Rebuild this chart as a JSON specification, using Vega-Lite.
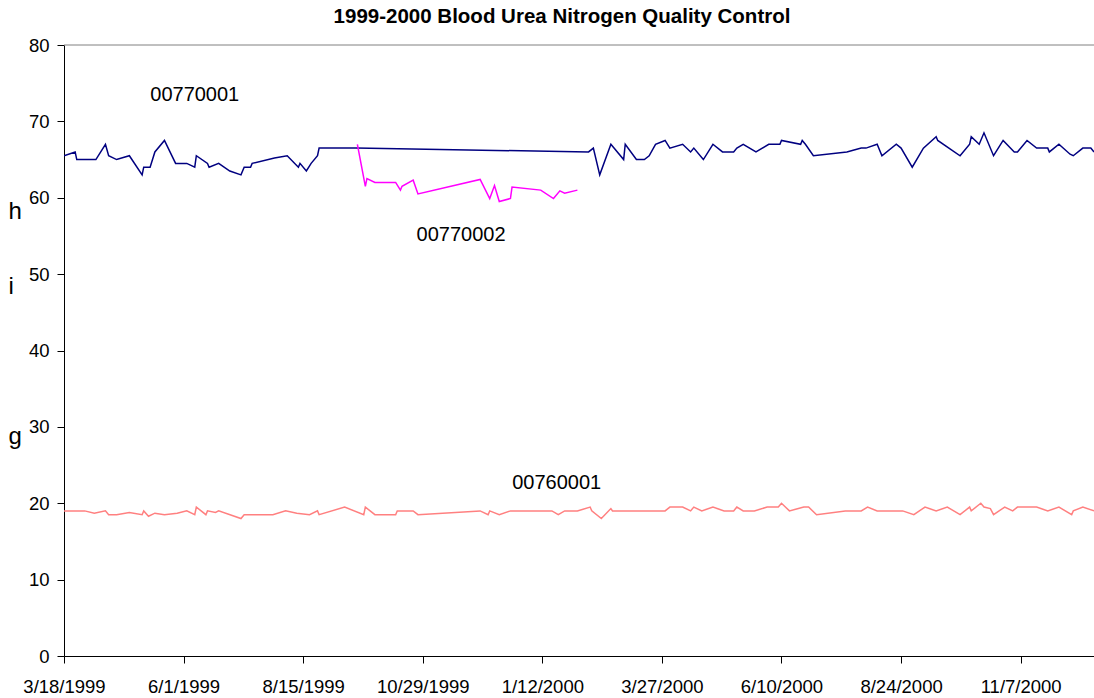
{
  "$schema": "https://vega.github.io/schema/vega-lite/v6.json",
  "width": 1030,
  "height": 611,
  "autosize": "none",
  "padding": {"left": 64, "top": 45, "right": 0, "bottom": 42},
  "background": "white",
  "config": {"view": {"stroke": null}, "font": "Liberation Sans"},
  "title": {
    "text": "1999-2000 Blood Urea Nitrogen Quality Control",
    "fontSize": 20.5,
    "fontWeight": "bold",
    "font": "Liberation Sans",
    "color": "black",
    "anchor": "middle",
    "frame": "group",
    "dx": -17,
    "baseline": "alphabetic",
    "offset": -7
  },
  "datasets": {
    "qc": [
      {"series": "00770001", "date": "1999/03/18", "value": 65.5},
      {"series": "00770001", "date": "1999/03/25", "value": 66},
      {"series": "00770001", "date": "1999/03/26", "value": 65},
      {"series": "00770001", "date": "1999/03/30", "value": 65},
      {"series": "00770001", "date": "1999/04/07", "value": 65},
      {"series": "00770001", "date": "1999/04/13", "value": 67},
      {"series": "00770001", "date": "1999/04/15", "value": 65.5},
      {"series": "00770001", "date": "1999/04/20", "value": 65},
      {"series": "00770001", "date": "1999/04/28", "value": 65.5},
      {"series": "00770001", "date": "1999/05/06", "value": 63},
      {"series": "00770001", "date": "1999/05/07", "value": 64},
      {"series": "00770001", "date": "1999/05/11", "value": 64},
      {"series": "00770001", "date": "1999/05/14", "value": 66},
      {"series": "00770001", "date": "1999/05/20", "value": 67.5},
      {"series": "00770001", "date": "1999/05/27", "value": 64.5},
      {"series": "00770001", "date": "1999/06/03", "value": 64.5},
      {"series": "00770001", "date": "1999/06/08", "value": 64},
      {"series": "00770001", "date": "1999/06/09", "value": 65.5},
      {"series": "00770001", "date": "1999/06/16", "value": 64.5},
      {"series": "00770001", "date": "1999/06/17", "value": 64},
      {"series": "00770001", "date": "1999/06/23", "value": 64.5},
      {"series": "00770001", "date": "1999/06/30", "value": 63.5},
      {"series": "00770001", "date": "1999/07/07", "value": 63},
      {"series": "00770001", "date": "1999/07/09", "value": 64},
      {"series": "00770001", "date": "1999/07/13", "value": 64},
      {"series": "00770001", "date": "1999/07/14", "value": 64.5},
      {"series": "00770001", "date": "1999/07/28", "value": 65.2},
      {"series": "00770001", "date": "1999/08/05", "value": 65.5},
      {"series": "00770001", "date": "1999/08/12", "value": 64},
      {"series": "00770001", "date": "1999/08/13", "value": 64.5},
      {"series": "00770001", "date": "1999/08/17", "value": 63.5},
      {"series": "00770001", "date": "1999/08/20", "value": 64.5},
      {"series": "00770001", "date": "1999/08/24", "value": 65.5},
      {"series": "00770001", "date": "1999/08/25", "value": 66.5},
      {"series": "00770001", "date": "1999/09/17", "value": 66.5},
      {"series": "00770001", "date": "2000/02/10", "value": 66},
      {"series": "00770001", "date": "2000/02/13", "value": 66.5},
      {"series": "00770001", "date": "2000/02/17", "value": 63},
      {"series": "00770001", "date": "2000/02/24", "value": 67},
      {"series": "00770001", "date": "2000/03/03", "value": 65},
      {"series": "00770001", "date": "2000/03/04", "value": 67},
      {"series": "00770001", "date": "2000/03/11", "value": 65},
      {"series": "00770001", "date": "2000/03/16", "value": 65},
      {"series": "00770001", "date": "2000/03/19", "value": 65.5},
      {"series": "00770001", "date": "2000/03/23", "value": 67},
      {"series": "00770001", "date": "2000/03/29", "value": 67.5},
      {"series": "00770001", "date": "2000/04/01", "value": 66.5},
      {"series": "00770001", "date": "2000/04/09", "value": 67},
      {"series": "00770001", "date": "2000/04/14", "value": 66},
      {"series": "00770001", "date": "2000/04/16", "value": 66.5},
      {"series": "00770001", "date": "2000/04/22", "value": 65},
      {"series": "00770001", "date": "2000/04/28", "value": 67},
      {"series": "00770001", "date": "2000/05/04", "value": 66},
      {"series": "00770001", "date": "2000/05/11", "value": 66},
      {"series": "00770001", "date": "2000/05/13", "value": 66.5},
      {"series": "00770001", "date": "2000/05/17", "value": 67},
      {"series": "00770001", "date": "2000/05/25", "value": 66},
      {"series": "00770001", "date": "2000/06/02", "value": 67},
      {"series": "00770001", "date": "2000/06/09", "value": 67},
      {"series": "00770001", "date": "2000/06/10", "value": 67.5},
      {"series": "00770001", "date": "2000/06/22", "value": 67},
      {"series": "00770001", "date": "2000/06/23", "value": 67.5},
      {"series": "00770001", "date": "2000/06/25", "value": 67},
      {"series": "00770001", "date": "2000/06/30", "value": 65.5},
      {"series": "00770001", "date": "2000/07/21", "value": 66},
      {"series": "00770001", "date": "2000/07/30", "value": 66.5},
      {"series": "00770001", "date": "2000/08/02", "value": 66.5},
      {"series": "00770001", "date": "2000/08/09", "value": 67},
      {"series": "00770001", "date": "2000/08/12", "value": 65.5},
      {"series": "00770001", "date": "2000/08/21", "value": 67},
      {"series": "00770001", "date": "2000/08/24", "value": 66.5},
      {"series": "00770001", "date": "2000/08/31", "value": 64},
      {"series": "00770001", "date": "2000/09/07", "value": 66.5},
      {"series": "00770001", "date": "2000/09/15", "value": 68},
      {"series": "00770001", "date": "2000/09/16", "value": 67.5},
      {"series": "00770001", "date": "2000/09/23", "value": 66.5},
      {"series": "00770001", "date": "2000/09/30", "value": 65.5},
      {"series": "00770001", "date": "2000/10/06", "value": 67},
      {"series": "00770001", "date": "2000/10/07", "value": 68},
      {"series": "00770001", "date": "2000/10/12", "value": 67},
      {"series": "00770001", "date": "2000/10/15", "value": 68.5},
      {"series": "00770001", "date": "2000/10/21", "value": 65.5},
      {"series": "00770001", "date": "2000/10/27", "value": 67.5},
      {"series": "00770001", "date": "2000/11/03", "value": 66},
      {"series": "00770001", "date": "2000/11/05", "value": 66},
      {"series": "00770001", "date": "2000/11/11", "value": 67.5},
      {"series": "00770001", "date": "2000/11/17", "value": 66.5},
      {"series": "00770001", "date": "2000/11/24", "value": 66.5},
      {"series": "00770001", "date": "2000/11/25", "value": 66},
      {"series": "00770001", "date": "2000/12/01", "value": 67},
      {"series": "00770001", "date": "2000/12/08", "value": 65.7},
      {"series": "00770001", "date": "2000/12/10", "value": 65.5},
      {"series": "00770001", "date": "2000/12/16", "value": 66.5},
      {"series": "00770001", "date": "2000/12/21", "value": 66.5},
      {"series": "00770001", "date": "2000/12/23", "value": 66},
      {"series": "00770002", "date": "1999/09/18", "value": 67},
      {"series": "00770002", "date": "1999/09/23", "value": 61.5},
      {"series": "00770002", "date": "1999/09/24", "value": 62.5},
      {"series": "00770002", "date": "1999/09/29", "value": 62},
      {"series": "00770002", "date": "1999/10/12", "value": 62},
      {"series": "00770002", "date": "1999/10/15", "value": 61},
      {"series": "00770002", "date": "1999/10/16", "value": 61.5},
      {"series": "00770002", "date": "1999/10/23", "value": 62.3},
      {"series": "00770002", "date": "1999/10/26", "value": 60.5},
      {"series": "00770002", "date": "1999/12/04", "value": 62.4},
      {"series": "00770002", "date": "1999/12/10", "value": 59.9},
      {"series": "00770002", "date": "1999/12/13", "value": 61.6},
      {"series": "00770002", "date": "1999/12/16", "value": 59.5},
      {"series": "00770002", "date": "1999/12/23", "value": 59.9},
      {"series": "00770002", "date": "1999/12/24", "value": 61.4},
      {"series": "00770002", "date": "2000/01/11", "value": 61},
      {"series": "00770002", "date": "2000/01/19", "value": 59.9},
      {"series": "00770002", "date": "2000/01/23", "value": 60.9},
      {"series": "00770002", "date": "2000/01/26", "value": 60.6},
      {"series": "00770002", "date": "2000/02/03", "value": 61},
      {"series": "00760001", "date": "1999/03/18", "value": 19},
      {"series": "00760001", "date": "1999/03/31", "value": 19},
      {"series": "00760001", "date": "1999/04/06", "value": 18.7},
      {"series": "00760001", "date": "1999/04/13", "value": 19},
      {"series": "00760001", "date": "1999/04/15", "value": 18.5},
      {"series": "00760001", "date": "1999/04/20", "value": 18.5},
      {"series": "00760001", "date": "1999/04/28", "value": 18.8},
      {"series": "00760001", "date": "1999/05/06", "value": 18.5},
      {"series": "00760001", "date": "1999/05/07", "value": 19},
      {"series": "00760001", "date": "1999/05/10", "value": 18.3},
      {"series": "00760001", "date": "1999/05/14", "value": 18.7},
      {"series": "00760001", "date": "1999/05/20", "value": 18.5},
      {"series": "00760001", "date": "1999/05/28", "value": 18.7},
      {"series": "00760001", "date": "1999/06/03", "value": 19},
      {"series": "00760001", "date": "1999/06/08", "value": 18.5},
      {"series": "00760001", "date": "1999/06/09", "value": 19.5},
      {"series": "00760001", "date": "1999/06/15", "value": 18.5},
      {"series": "00760001", "date": "1999/06/16", "value": 19},
      {"series": "00760001", "date": "1999/06/21", "value": 18.8},
      {"series": "00760001", "date": "1999/06/23", "value": 19},
      {"series": "00760001", "date": "1999/07/07", "value": 18},
      {"series": "00760001", "date": "1999/07/09", "value": 18.5},
      {"series": "00760001", "date": "1999/07/27", "value": 18.5},
      {"series": "00760001", "date": "1999/08/04", "value": 19},
      {"series": "00760001", "date": "1999/08/11", "value": 18.7},
      {"series": "00760001", "date": "1999/08/19", "value": 18.5},
      {"series": "00760001", "date": "1999/08/24", "value": 19},
      {"series": "00760001", "date": "1999/08/25", "value": 18.5},
      {"series": "00760001", "date": "1999/09/10", "value": 19.5},
      {"series": "00760001", "date": "1999/09/22", "value": 18.5},
      {"series": "00760001", "date": "1999/09/23", "value": 19.5},
      {"series": "00760001", "date": "1999/09/29", "value": 18.5},
      {"series": "00760001", "date": "1999/10/12", "value": 18.5},
      {"series": "00760001", "date": "1999/10/13", "value": 19},
      {"series": "00760001", "date": "1999/10/23", "value": 19},
      {"series": "00760001", "date": "1999/10/26", "value": 18.5},
      {"series": "00760001", "date": "1999/12/04", "value": 19},
      {"series": "00760001", "date": "1999/12/09", "value": 18.5},
      {"series": "00760001", "date": "1999/12/10", "value": 19},
      {"series": "00760001", "date": "1999/12/16", "value": 18.5},
      {"series": "00760001", "date": "1999/12/23", "value": 19},
      {"series": "00760001", "date": "2000/01/18", "value": 19},
      {"series": "00760001", "date": "2000/01/22", "value": 18.5},
      {"series": "00760001", "date": "2000/01/26", "value": 19},
      {"series": "00760001", "date": "2000/02/03", "value": 19},
      {"series": "00760001", "date": "2000/02/11", "value": 19.5},
      {"series": "00760001", "date": "2000/02/12", "value": 19},
      {"series": "00760001", "date": "2000/02/18", "value": 18},
      {"series": "00760001", "date": "2000/02/24", "value": 19.3},
      {"series": "00760001", "date": "2000/02/25", "value": 19},
      {"series": "00760001", "date": "2000/03/29", "value": 19},
      {"series": "00760001", "date": "2000/04/01", "value": 19.5},
      {"series": "00760001", "date": "2000/04/09", "value": 19.5},
      {"series": "00760001", "date": "2000/04/14", "value": 19},
      {"series": "00760001", "date": "2000/04/16", "value": 19.5},
      {"series": "00760001", "date": "2000/04/21", "value": 19},
      {"series": "00760001", "date": "2000/04/28", "value": 19.5},
      {"series": "00760001", "date": "2000/05/05", "value": 19},
      {"series": "00760001", "date": "2000/05/11", "value": 19},
      {"series": "00760001", "date": "2000/05/13", "value": 19.5},
      {"series": "00760001", "date": "2000/05/17", "value": 19},
      {"series": "00760001", "date": "2000/05/24", "value": 19},
      {"series": "00760001", "date": "2000/06/01", "value": 19.5},
      {"series": "00760001", "date": "2000/06/08", "value": 19.5},
      {"series": "00760001", "date": "2000/06/10", "value": 20},
      {"series": "00760001", "date": "2000/06/15", "value": 19},
      {"series": "00760001", "date": "2000/06/24", "value": 19.5},
      {"series": "00760001", "date": "2000/06/27", "value": 19.5},
      {"series": "00760001", "date": "2000/07/02", "value": 18.5},
      {"series": "00760001", "date": "2000/07/20", "value": 19},
      {"series": "00760001", "date": "2000/07/30", "value": 19},
      {"series": "00760001", "date": "2000/08/03", "value": 19.5},
      {"series": "00760001", "date": "2000/08/09", "value": 19},
      {"series": "00760001", "date": "2000/08/25", "value": 19},
      {"series": "00760001", "date": "2000/09/01", "value": 18.5},
      {"series": "00760001", "date": "2000/09/08", "value": 19.5},
      {"series": "00760001", "date": "2000/09/15", "value": 19},
      {"series": "00760001", "date": "2000/09/22", "value": 19.5},
      {"series": "00760001", "date": "2000/09/30", "value": 18.5},
      {"series": "00760001", "date": "2000/10/06", "value": 19.5},
      {"series": "00760001", "date": "2000/10/07", "value": 19},
      {"series": "00760001", "date": "2000/10/13", "value": 20},
      {"series": "00760001", "date": "2000/10/15", "value": 19.5},
      {"series": "00760001", "date": "2000/10/19", "value": 19.3},
      {"series": "00760001", "date": "2000/10/21", "value": 18.5},
      {"series": "00760001", "date": "2000/10/28", "value": 19.5},
      {"series": "00760001", "date": "2000/11/02", "value": 19},
      {"series": "00760001", "date": "2000/11/05", "value": 19.5},
      {"series": "00760001", "date": "2000/11/17", "value": 19.5},
      {"series": "00760001", "date": "2000/11/24", "value": 19},
      {"series": "00760001", "date": "2000/12/01", "value": 19.5},
      {"series": "00760001", "date": "2000/12/09", "value": 18.5},
      {"series": "00760001", "date": "2000/12/10", "value": 19},
      {"series": "00760001", "date": "2000/12/16", "value": 19.5},
      {"series": "00760001", "date": "2000/12/23", "value": 19}
    ],
    "labels": [
      {"label": "00770001", "date": "1999/06/08", "value": 73.5},
      {"label": "00770002", "date": "1999/11/22", "value": 55.1},
      {"label": "00760001", "date": "2000/01/21", "value": 22.6}
    ]
  },
  "layer": [
    {
      "data": {"values": [{"top": 80}]},
      "mark": {"type": "rule", "color": "#808080", "strokeWidth": 1},
      "encoding": {"y": {"field": "top", "type": "quantitative"}}
    },
    {
      "data": {"name": "qc"},
      "mark": {"type": "line", "strokeWidth": 1.5, "clip": true},
      "encoding": {
        "x": {
          "field": "date",
          "type": "temporal",
          "scale": {
            "domain": [
              {"year": 1999, "month": 3, "date": 18},
              {"year": 2000, "month": 12, "date": 23}
            ]
          },
          "axis": {
            "title": null,
            "values": [
              {"year": 1999, "month": 3, "date": 18},
              {"year": 1999, "month": 6, "date": 1},
              {"year": 1999, "month": 8, "date": 15},
              {"year": 1999, "month": 10, "date": 29},
              {"year": 2000, "month": 1, "date": 12},
              {"year": 2000, "month": 3, "date": 27},
              {"year": 2000, "month": 6, "date": 10},
              {"year": 2000, "month": 8, "date": 24},
              {"year": 2000, "month": 11, "date": 7}
            ],
            "format": "%-m/%-d/%Y",
            "grid": false,
            "labelFont": "Liberation Sans",
            "labelFontSize": 18.5,
            "labelColor": "black",
            "labelBaseline": "alphabetic",
            "labelPadding": 29,
            "labelOverlap": false,
            "labelFlush": false,
            "tickColor": "black",
            "tickSize": 7,
            "domainColor": "black",
            "domainWidth": 1
          }
        },
        "y": {
          "field": "value",
          "type": "quantitative",
          "scale": {"domain": [0, 80], "nice": false},
          "axis": {
            "title": ["h", "i", "\u200b", "g"],
            "titleAngle": 0,
            "titleAlign": "left",
            "titleBaseline": "alphabetic",
            "titleX": -56,
            "titleY": 173,
            "titleLineHeight": 75,
            "titleFont": "Liberation Sans",
            "titleFontSize": 24,
            "titleFontWeight": "normal",
            "titleColor": "black",
            "values": [0, 10, 20, 30, 40, 50, 60, 70, 80],
            "grid": false,
            "labelFont": "Liberation Sans",
            "labelFontSize": 18.5,
            "labelColor": "black",
            "labelPadding": 8,
            "tickColor": "black",
            "tickSize": 7,
            "domainColor": "black",
            "domainWidth": 1
          }
        },
        "color": {
          "field": "series",
          "type": "nominal",
          "scale": {
            "domain": ["00770001", "00770002", "00760001"],
            "range": ["#000080", "#FF00FF", "#FF8080"]
          },
          "legend": null
        },
        "order": {"field": "date", "type": "temporal"}
      }
    },
    {
      "data": {"name": "labels"},
      "mark": {
        "type": "text",
        "font": "Liberation Sans",
        "fontSize": 20,
        "color": "black",
        "align": "center",
        "baseline": "middle"
      },
      "encoding": {
        "x": {"field": "date", "type": "temporal"},
        "y": {"field": "value", "type": "quantitative"},
        "text": {"field": "label", "type": "nominal"}
      }
    }
  ]
}
